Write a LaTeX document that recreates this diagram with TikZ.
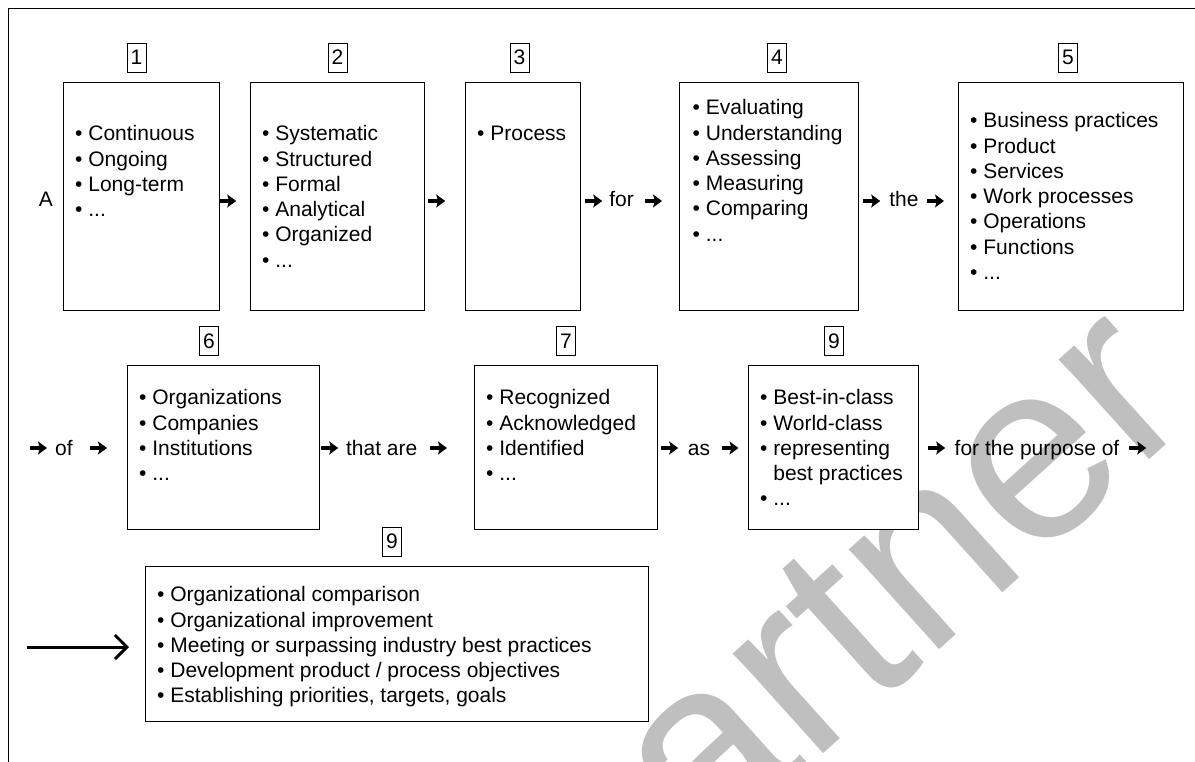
\documentclass[tikz,border=0pt]{standalone}
\usepackage{fontspec}
\setmainfont{Liberation Sans}
\usetikzlibrary{arrows.meta,calc}
\newcommand{\bl}[1]{\strut•\ #1}
\newcommand{\hg}[1]{\strut\phantom{•\ }#1}
\begin{document}
\begin{tikzpicture}[x=1pt,y=-1pt,
  every node/.style={font=\fontsize{21}{25.3}\selectfont},
  box/.style={draw, line width=1.2pt, fill=white, inner sep=0, anchor=north west},
  lst/.style={anchor=north west, inner sep=0, align=left},
  num/.style={draw, line width=0.8pt, minimum width=19pt, minimum height=29pt, inner sep=0},
  word/.style={anchor=base, inner sep=0},
  harrow/.style={line width=4.5pt, -{Stealth[length=9pt,width=13pt,inset=2pt]}},
  longarrow/.style={line width=3pt, -{Straight Barb[length=12pt,width=24pt]}},
  frame/.style={line width=1.5pt},
  wmark/.style={text=black!25, inner sep=0, font=\fontsize{255}{255}\selectfont}
]
\useasboundingbox (0,0) rectangle (1195,762);
\fill[white] (0,0) rectangle (1195,762);
% watermark
\begin{scope}
  \clip (9,9) rectangle (1195,762);
  \node[wmark, anchor=base east, rotate=42] (wm) at (1200,415) {Gartner};
\end{scope}
% frame
\draw[frame] (8.5,762) -- (8.5,8.5) -- (1195,8.5);
\coordinate (r1) at (0,201);
\coordinate (r2) at (0,448);
% row 1 boxes
\node[box, minimum width=156pt, minimum height=228pt] (b1) at (63,82) {};
\node[box, minimum width=174pt, minimum height=228pt] (b2) at (250,82) {};
\node[box, minimum width=115pt, minimum height=228pt] (b3) at (465,82) {};
\node[box, minimum width=179pt, minimum height=228pt] (b4) at (679,82) {};
\node[box, minimum width=225pt, minimum height=228pt] (b5) at (958,82) {};
% row 2 boxes
\node[box, minimum width=192pt, minimum height=164pt] (b6) at (127,365) {};
\node[box, minimum width=183pt, minimum height=164pt] (b7) at (474,365) {};
\node[box, minimum width=170pt, minimum height=164pt] (b9) at (748,365) {};
% bottom box
\node[box, minimum width=503pt, minimum height=155pt] (bb) at (145,566) {};
% lists
\node[lst] (t1) at (75,122.8) {\bl{Continuous}\\\bl{Ongoing}\\\bl{Long-term}\\\bl{...}};
\node[lst] (t2) at (262,122.8) {\bl{Systematic}\\\bl{Structured}\\\bl{Formal}\\\bl{Analytical}\\\bl{Organized}\\\bl{...}};
\node[lst] (t3) at (477,122.8) {\bl{Process}};
\node[lst] (t4) at (692.5,96.8) {\bl{Evaluating}\\\bl{Understanding}\\\bl{Assessing}\\\bl{Measuring}\\\bl{Comparing}\\\bl{...}};
\node[lst] (t5) at (970,109.8) {\bl{Business practices}\\\bl{Product}\\\bl{Services}\\\bl{Work processes}\\\bl{Operations}\\\bl{Functions}\\\bl{...}};
\node[lst] (t6) at (139,386.8) {\bl{Organizations}\\\bl{Companies}\\\bl{Institutions}\\\bl{...}};
\node[lst] (t7) at (486,386.8) {\bl{Recognized}\\\bl{Acknowledged}\\\bl{Identified}\\\bl{...}};
\node[lst] (t9) at (760,386.8) {\bl{Best-in-class}\\\bl{World-class}\\\bl{representing}\\\hg{best practices}\\\bl{...}};
\node[lst] (tb) at (157,583.8) {\bl{Organizational comparison}\\\bl{Organizational improvement}\\\bl{Meeting or surpassing industry best practices}\\\bl{Development product / process objectives}\\\bl{Establishing priorities, targets, goals}};
% number labels
\node[num] (n1) at (136.5,57.5) {1};
\node[num] (n2) at (337.5,57.5) {2};
\node[num] (n3) at (519.5,57.5) {3};
\node[num] (n4) at (777,57.5) {4};
\node[num] (n5) at (1068,57.5) {5};
\node[num] (n6) at (209,341) {6};
\node[num] (n7) at (566,341) {7};
\node[num] (n9) at (834,341) {9};
\node[num] (n9b) at (392,541.5) {9};
% words
\node[word] (A) at (45.8,206.7) {A};
\node[word] (for) at (621.5,206.5) {for};
\node[word] (the) at (904,206.5) {the};
\node[word] (of) at (64,455) {of};
\node[word] (thatare) at (381.7,455) {that are};
\node[word] (as) at (699,455) {as};
\node[word] (purpose) at (1037,455) {for the purpose of};
% row 1 arrows
\draw[harrow] ($(b1.east|-r1)+(-1,0)$) -- ++(17,0);
\draw[harrow] ($(b2.east|-r1)+(3,0)$) -- ++(17,0);
\draw[harrow] ($(b3.east|-r1)+(4,0)$) -- ++(17,0);
\draw[harrow] ($(b4.west|-r1)+(-34,0)$) -- ++(17,0);
\draw[harrow] ($(b4.east|-r1)+(4,0)$) -- ++(17,0);
\draw[harrow] ($(b5.west|-r1)+(-31,0)$) -- ++(17,0);
% row 2 arrows
\draw[harrow] ($(b6.west|-r2)+(-97,0)$) -- ++(17,0);
\draw[harrow] ($(b6.west|-r2)+(-37,0)$) -- ++(17,0);
\draw[harrow] ($(b6.east|-r2)+(1,0)$) -- ++(17,0);
\draw[harrow] ($(b7.west|-r2)+(-44,0)$) -- ++(17,0);
\draw[harrow] ($(b7.east|-r2)+(3,0)$) -- ++(17,0);
\draw[harrow] ($(b9.west|-r2)+(-26.5,0)$) -- ++(17,0);
\draw[harrow] ($(b9.east|-r2)+(9,0)$) -- ++(17,0);
\draw[harrow] ($(b9.east|-r2)+(210,0)$) -- ++(17,0);
% long arrow
\coordinate (ls) at (27,647);
\draw[longarrow] (ls) -- ($(bb.west|-ls)+(-16,0)$);
\end{tikzpicture}
\end{document}
